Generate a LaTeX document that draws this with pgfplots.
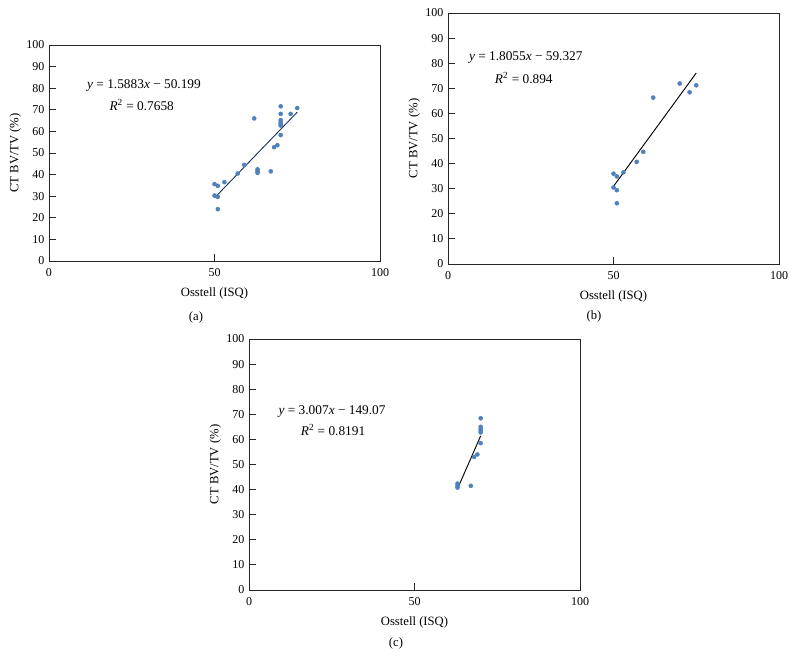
\documentclass[border=0pt]{standalone}
\usepackage{pgfplots}
\pgfplotsset{compat=1.18}
\usepackage{fontspec}
\setmainfont{Liberation Serif}
\definecolor{ptblue}{RGB}{79,129,189}
\definecolor{fitnavy}{RGB}{31,52,96}

\pgfplotsset{
  scatterpanel/.style={
    scale only axis,
    width=248.25pt,
    xmin=0, xmax=100, ymin=0, ymax=100,
    xtick={0,50,100}, ytick={0,10,...,100},
    tick align=inside,
    xtick pos=bottom, ytick pos=left,
    major tick length=5pt,
    axis line style={black!85, line width=0.6pt},
    every tick/.style={black!85, line width=0.6pt},
    tick label style={font=\fontsize{9}{10}\selectfont},
    xticklabel style={yshift=-2pt},
    /pgf/number format/assume math mode=true,
    label style={font=\fontsize{9.5}{11}\selectfont},
    xlabel={Osstell (ISQ)},
    ylabel={CT BV/TV (\%)},
    xlabel style={yshift=-1.5pt},
    ylabel style={yshift=-3pt},
    clip=false,
  },
  pts/.style={only marks, mark=*, mark size=1.5pt, color=ptblue},
}

\begin{document}
\begin{tikzpicture}
\path (0,0) rectangle (597pt,502.5pt);

% (a)
\begin{axis}[scatterpanel, height=162pt, at={(36.75pt,306.75pt)}, anchor=south west]
\addplot[pts] coordinates {
  (50,35.6) (51,34.8) (50,30.3) (51,29.7) (51,24.0) (53,36.5)
  (57,40.5) (59,44.5) (62,66.0) (63,42.4) (63,41.5) (63,40.8)
  (67,41.5) (68,52.7) (69,53.6) (70,71.6) (70,68.1) (70,65.2)
  (70,64.2) (70,63.5) (70,62.7) (70,58.3) (73,68.1) (75,70.8)
};
\addplot[fitnavy, line width=0.7pt] coordinates {(50,29.22) (75,68.92)};
\node[font=\fontsize{10}{12}\selectfont] at (axis cs:28.7,81.2) {\textit{y} = 1.5883\textit{x} − 50.199};
\node[font=\fontsize{10}{12}\selectfont] at (axis cs:28.0,72.4) {\textit{R}\textsuperscript{2} = 0.7658};
\end{axis}

% (b)
\begin{axis}[scatterpanel, height=188.25pt, at={(336pt,304.5pt)}, anchor=south west]
\addplot[pts] coordinates {
  (50,36.0) (51,34.9) (50,30.5) (51,29.4) (51,24.2) (53,36.5)
  (57,40.7) (59,44.7) (62,66.3) (70,71.9) (73,68.4) (75,71.2)
};
\addplot[black, line width=0.7pt] coordinates {(50,30.95) (75,76.09)};
\node[font=\fontsize{10}{12}\selectfont] at (axis cs:23.5,82.2) {\textit{y} = 1.8055\textit{x} − 59.327};
\node[font=\fontsize{10}{12}\selectfont] at (axis cs:22.9,74.2) {\textit{R}\textsuperscript{2} = 0.894};
\end{axis}

% (c)
\begin{axis}[scatterpanel, height=188.25pt, at={(186.75pt,60pt)}, anchor=south west]
\addplot[pts] coordinates {
  (63,42.4) (63,41.5) (63,40.8) (67,41.5) (68,53.0) (69,54.0)
  (70,68.4) (70,65.0) (70,64.2) (70,63.5) (70,62.8) (70,58.5)
};
\addplot[black, line width=0.7pt] coordinates {(63,40.37) (70,61.42)};
\node[font=\fontsize{10}{12}\selectfont] at (axis cs:25.1,71.3) {\textit{y} = 3.007\textit{x} − 149.07};
\node[font=\fontsize{10}{12}\selectfont] at (axis cs:25.4,63.7) {\textit{R}\textsuperscript{2} = 0.8191};
\end{axis}

\node[font=\fontsize{9.5}{11}\selectfont] at (147pt,264.75pt) {(a)};
\node[font=\fontsize{9.5}{11}\selectfont] at (445.5pt,265pt) {(b)};
\node[font=\fontsize{9.5}{11}\selectfont] at (297pt,20pt) {(c)};
\end{tikzpicture}
\end{document}
